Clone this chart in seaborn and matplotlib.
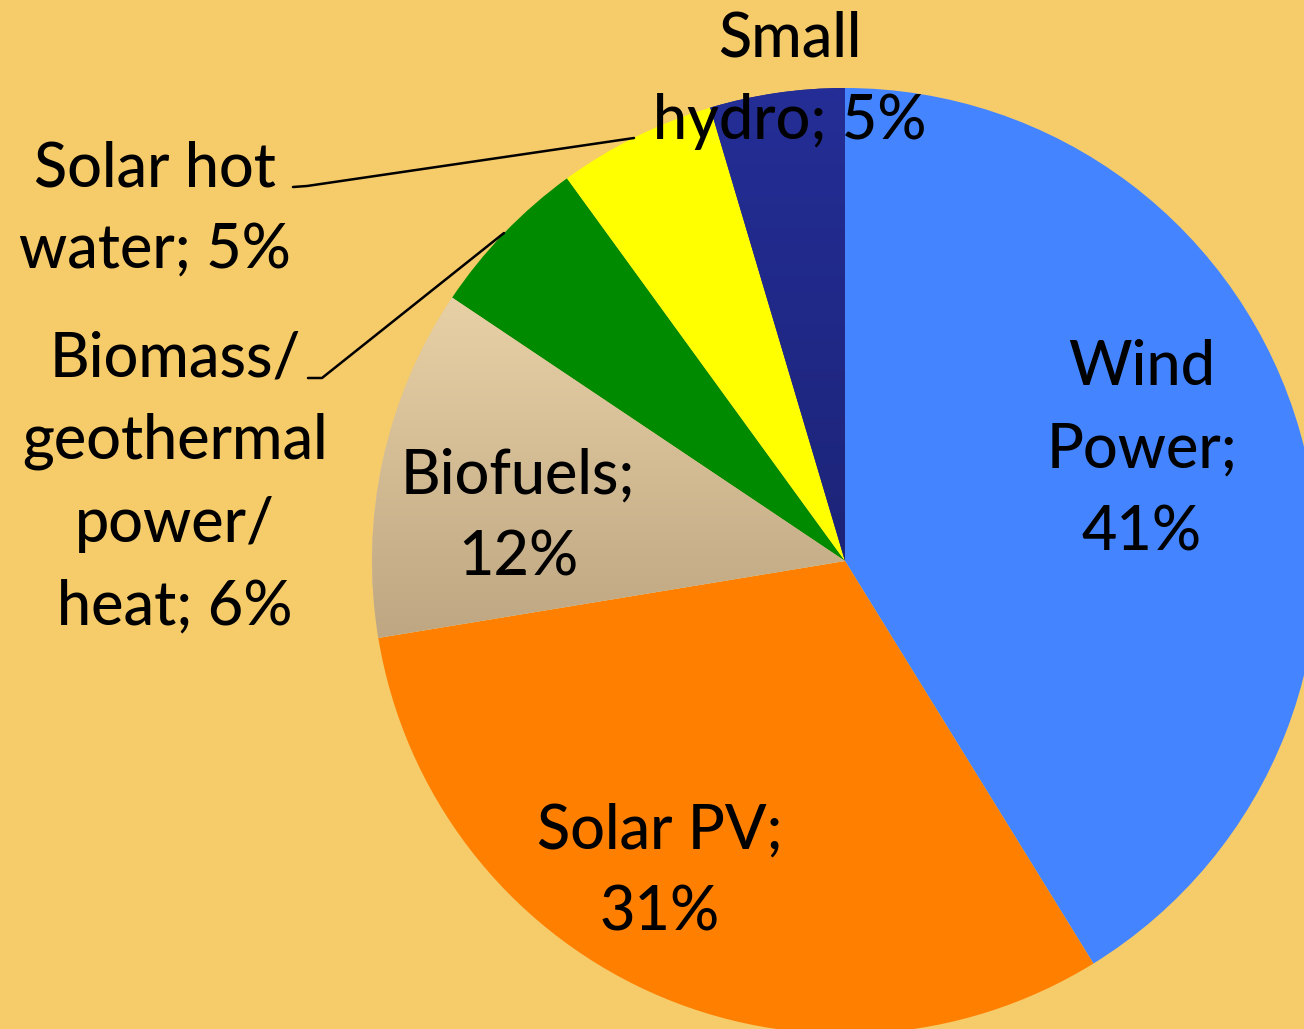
import numpy as np
import matplotlib
matplotlib.use("Agg")
import matplotlib.pyplot as plt
import seaborn as sns

# data (slice sizes in %)
sources = ["Wind\nPower", "Solar PV", "Biofuels", "Biomass/\ngeothermal\npower/\nheat",
           "Solar hot\nwater", "Small\nhydro"]
shares = [41.2, 31.2, 12.0, 5.6, 5.4, 4.6]
slice_colors = ["#4485FF", "#FF7F00", "#E2C89C", "#008A00", "#FFFF00", "#212A8E"]
bg = "#F6CB6A"

sns.set_style("white")
plt.rcParams["font.family"] = ["Lato", "DejaVu Sans"]

W, H = 1304, 1029
fig = plt.figure(figsize=(W / 100, H / 100), dpi=100, facecolor=bg)
ax = fig.add_axes([0, 0, 1, 1])
ax.set_facecolor(bg)

def py(y):
    # pixel row (from top) -> data y
    return H - y

cx, cy, r = 845, py(561), 473
wedges, _ = ax.pie(shares, colors=sns.color_palette(slice_colors), startangle=90,
                   counterclock=False, center=(cx, cy), radius=r, frame=True,
                   wedgeprops=dict(linewidth=0))

# vertical gradient on the biofuels slice
grad = np.linspace(0, 1, 256)[:, None]
top = np.array([233, 209, 167]) / 255
bot = np.array([188, 165, 128]) / 255
img = top + (bot - top) * grad[..., None]
img = np.repeat(img, 2, axis=1)
im = ax.imshow(img, extent=(cx - r, cx, py(650), py(290)), aspect="auto", zorder=2)
im.set_clip_path(wedges[2])

# slight gradient on small hydro
top2 = np.array([36, 46, 150]) / 255
bot2 = np.array([28, 36, 120]) / 255
img2 = top2 + (bot2 - top2) * grad[..., None]
img2 = np.repeat(img2, 2, axis=1)
im2 = ax.imshow(img2, extent=(700, cx + 2, py(561), py(85)), aspect="auto", zorder=2)
im2.set_clip_path(wedges[5])

fs = 44
labels = [f"{s}; {v:.0f}%" for s, v in zip(sources, shares)]
labels[0] = f"Wind\nPower;\n{shares[0]:.0f}%"
labels[1] = f"Solar PV;\n{shares[1]:.0f}%"
labels[2] = f"Biofuels;\n{shares[2]:.0f}%"
pos = [(1142, 450), (660, 872), (518, 517), (175, 483), (155, 210), (790, 80)]
for lab, (x, y) in zip(labels, pos):
    ax.text(x, py(y), lab, ha="center", va="center", multialignment="center",
            fontsize=fs, fontweight="medium", color="black", linespacing=1.56,
            zorder=5)

# leader lines
ax.plot([293, 307, 634], [py(187), py(186), py(138)], color="black", lw=1.8, zorder=4)
ax.plot([308, 322, 504], [py(378), py(378), py(233)], color="black", lw=1.8, zorder=4)

ax.set_xlim(0, W)
ax.set_ylim(0, H)
ax.set_aspect("equal")
ax.axis("off")
fig.savefig("out.png", dpi=100, facecolor=bg)
